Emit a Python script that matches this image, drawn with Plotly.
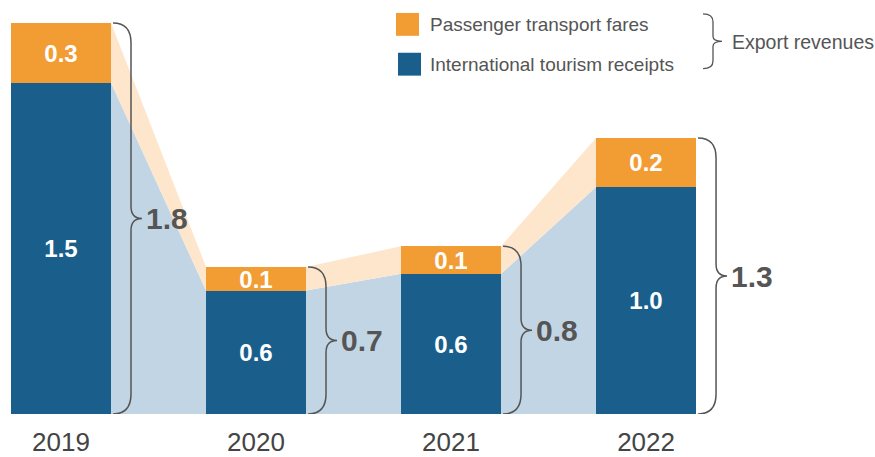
import plotly.graph_objects as go

# ---- data ----
years = ["2019", "2020", "2021", "2022"]
tourism_receipts = [1.525, 0.568, 0.645, 1.045]
transport_fares = [0.275, 0.109, 0.127, 0.225]
series_names = ["Passenger transport fares", "International tourism receipts"]
group_label = "Export revenues"

# ---- style ----
W, H = 875, 457
M_B = 41
BLUE = "#1a5f8c"
ORANGE = "#f29d34"
LIGHT_BLUE = "#c2d5e5"
LIGHT_ORANGE = "#fde6cc"
GRAY = "#555555"
FONT = "Liberation Sans"

x_lo, x_hi = -0.3128, 4.174
y_lo, y_hi = 0, 1.9056
plot_h = H - M_B
px_x = (x_hi - x_lo) / W          # data units per pixel (x)
px_y = (y_hi - y_lo) / plot_h     # data units per pixel (y)
bw = 100 * px_x                   # bar width in data units

xs = list(range(len(years)))
totals = [a + b for a, b in zip(tourism_receipts, transport_fares)]

fig = go.Figure()

shapes = []
annotations = []

# connecting bands between bars (drawn below the bars)
for i in xs[:-1]:
    xa, xb = i + bw / 2, i + 1 - bw / 2
    ba, bb = tourism_receipts[i], tourism_receipts[i + 1]
    ta, tb = totals[i], totals[i + 1]
    shapes.append(dict(type="path", xref="x", yref="y", layer="below",
                       path=f"M {xa},0 L {xa},{ba} L {xb},{bb} L {xb},0 Z",
                       fillcolor=LIGHT_BLUE, line=dict(width=0)))
    shapes.append(dict(type="path", xref="x", yref="y", layer="below",
                       path=f"M {xa},{ba} L {xa},{ta} L {xb},{tb} L {xb},{bb} Z",
                       fillcolor=LIGHT_ORANGE, line=dict(width=0)))

# stacked bars
fig.add_trace(go.Bar(x=xs, y=tourism_receipts, width=bw, name=series_names[1],
                     marker=dict(color=BLUE, line=dict(width=0)),
                     text=[f"{v:.1f}" for v in tourism_receipts],
                     textposition="inside", insidetextanchor="middle",
                     constraintext="none",
                     textfont=dict(family=FONT, size=24, color="white", weight="bold"),
                     showlegend=False))
fig.add_trace(go.Bar(x=xs, y=transport_fares, width=bw, name=series_names[0],
                     marker=dict(color=ORANGE, line=dict(width=0)),
                     text=[f"{v:.1f}" for v in transport_fares],
                     textposition="inside", insidetextanchor="middle",
                     constraintext="none",
                     textfont=dict(family=FONT, size=24, color="white", weight="bold"),
                     showlegend=False))


def brace_path(x0, x1, x2, top, bot, r, rt):
    mid = (top + bot) / 2
    return (f"M {x0},{top} Q {x1},{top} {x1},{top - r} "
            f"L {x1},{mid + rt} Q {x1},{mid} {x2},{mid} "
            f"Q {x1},{mid} {x1},{mid - rt} "
            f"L {x1},{bot + r} Q {x1},{bot} {x0},{bot}")


for i in xs:
    right = i + bw / 2
    x0 = right + 2 * px_x
    x1 = right + 20 * px_x
    x2 = right + 31 * px_x
    shapes.append(dict(type="path", xref="x", yref="y",
                       path=brace_path(x0, x1, x2, totals[i], 0, 20 * px_y, 12 * px_y),
                       line=dict(color=GRAY, width=1.5)))
    annotations.append(dict(x=right + 33 * px_x, y=totals[i] / 2, xref="x", yref="y",
                            text=f"{totals[i]:.1f}", showarrow=False, xanchor="left",
                            yanchor="middle",
                            font=dict(family=FONT, size=30, color=GRAY, weight="bold")))

# custom legend (paper coordinates)
def px2paper_x(p):
    return p / W


def px2paper_y(p):
    return (plot_h - p) / plot_h


legend_items = [(series_names[0], ORANGE, 396, 13), (series_names[1], BLUE, 398, 53)]
for name, col, lx, ly in legend_items:
    shapes.append(dict(type="rect", xref="paper", yref="paper",
                       x0=px2paper_x(lx), x1=px2paper_x(lx + 23),
                       y0=px2paper_y(ly), y1=px2paper_y(ly + 23),
                       fillcolor=col, line=dict(width=0)))
    annotations.append(dict(x=px2paper_x(428), y=px2paper_y(ly + 11.5), xref="paper",
                            yref="paper", text=name, showarrow=False, xanchor="left",
                            yanchor="middle", font=dict(family=FONT, size=19, color=GRAY)))

bx0, bx1, bx2 = px2paper_x(703), px2paper_x(713), px2paper_x(722)
btop, bbot = px2paper_y(14), px2paper_y(69)
shapes.append(dict(type="path", xref="paper", yref="paper",
                   path=brace_path(bx0, bx1, bx2, btop, bbot, 8 / plot_h, 5 / plot_h),
                   line=dict(color=GRAY, width=1.3)))
annotations.append(dict(x=px2paper_x(730), y=px2paper_y(42), xref="paper", yref="paper",
                        text=group_label, showarrow=False, xanchor="left", yanchor="middle",
                        font=dict(family=FONT, size=19.5, color=GRAY)))

fig.update_layout(
    width=W, height=H, barmode="stack", bargap=0,
    margin=dict(l=0, r=0, t=0, b=M_B, pad=0),
    paper_bgcolor="white", plot_bgcolor="white",
    shapes=shapes, annotations=annotations,
    showlegend=False,
    xaxis=dict(range=[x_lo, x_hi], tickvals=xs, ticktext=years, showgrid=False,
               zeroline=False, showline=False, ticks="", ticklabelstandoff=10,
               tickfont=dict(family=FONT, size=26, color="#444444"), fixedrange=True),
    yaxis=dict(range=[y_lo, y_hi], visible=False, showgrid=False, zeroline=False,
               fixedrange=True),
)

fig.write_html("out.html", config={"displayModeBar": False},
               post_script="document.body.style.margin='0';document.body.style.overflow='hidden';")
